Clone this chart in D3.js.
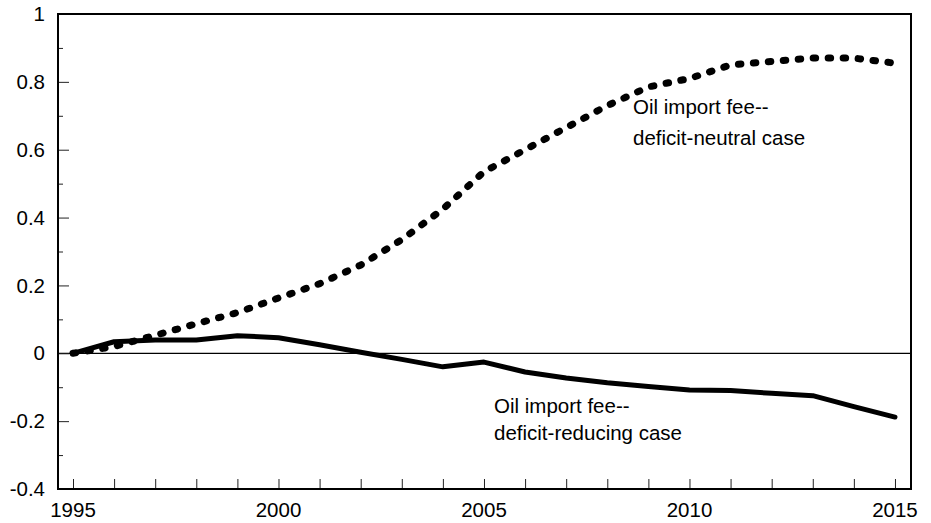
<!DOCTYPE html>
<html>
<head>
<meta charset="utf-8">
<script src="https://cdn.jsdelivr.net/npm/d3@7"></script>
<style>
  body { margin: 0; background: #fff; }
  svg { display: block; }
</style>
</head>
<body>
<div id="chart"></div>
<script>
// data
const years = d3.range(1995, 2016);
const deficitNeutral = [0, 0.02, 0.053, 0.087, 0.12, 0.163, 0.205, 0.26, 0.335, 0.425, 0.535,
  0.6, 0.665, 0.73, 0.785, 0.81, 0.85, 0.86, 0.87, 0.87, 0.855];
const deficitReducing = [0, 0.034, 0.039, 0.039, 0.052, 0.046, 0.025, 0.003, -0.018, -0.04, -0.026,
  -0.055, -0.073, -0.087, -0.098, -0.108, -0.11, -0.118, -0.125, -0.157, -0.188];
const yMajor = [-0.4, -0.2, 0, 0.2, 0.4, 0.6, 0.8, 1];
const yMinor = [-0.3, -0.1, 0.1, 0.3, 0.5, 0.7, 0.9];
const yLabels = ["-0.4", "-0.2", "0", "0.2", "0.4", "0.6", "0.8", "1"];
const xLabels = [1995, 2000, 2005, 2010, 2015];
const labelNeutral = ["Oil import fee--", "deficit-neutral case"];
const labelReducing = ["Oil import fee--", "deficit-reducing case"];

const W = 931, H = 523;
const margin = {top: 14, right: 20, bottom: 34, left: 58};

const svg = d3.select("#chart").append("svg")
  .attr("width", W)
  .attr("height", H);

const x = d3.scaleLinear()
  .domain([1994.635, 2015.39])
  .range([margin.left, W - margin.right]);

const y = d3.scaleLinear()
  .domain([-0.4, 1])
  .range([H - margin.bottom, margin.top]);

const font = "'Liberation Sans', Arial, sans-serif";
const fs = "20.5px";

// zero line
svg.append("line")
  .attr("x1", x.range()[0]).attr("x2", x.range()[1])
  .attr("y1", y(0)).attr("y2", y(0))
  .attr("stroke", "#000")
  .attr("stroke-width", 1.2);

// y ticks (inside, pointing right)
svg.append("g")
  .attr("transform", `translate(${margin.left},0)`)
  .call(d3.axisRight(y).tickValues(yMajor).tickSize(11).tickFormat(""))
  .call(g => g.select(".domain").remove())
  .selectAll("line").attr("stroke", "#222");

svg.append("g")
  .attr("transform", `translate(${margin.left},0)`)
  .call(d3.axisRight(y).tickValues(yMinor).tickSize(5).tickFormat(""))
  .call(g => g.select(".domain").remove())
  .selectAll("line").attr("stroke", "#222");

// y labels
svg.append("g")
  .selectAll("text")
  .data(yMajor)
  .enter()
  .append("text")
  .attr("x", margin.left - 13)
  .attr("y", d => y(d))
  .attr("dy", "0.35em")
  .attr("text-anchor", "end")
  .attr("font-family", font)
  .attr("font-size", fs)
  .text((d, i) => yLabels[i]);

// x ticks (inside, pointing up)
svg.append("g")
  .attr("transform", `translate(0,${H - margin.bottom})`)
  .call(d3.axisTop(x).tickValues(years).tickSize(10).tickFormat(""))
  .call(g => g.select(".domain").remove())
  .selectAll("line").attr("stroke", "#222");

// x labels
svg.append("g")
  .selectAll("text")
  .data(xLabels)
  .enter()
  .append("text")
  .attr("x", d => x(d))
  .attr("y", H - margin.bottom + 28)
  .attr("text-anchor", "middle")
  .attr("font-family", font)
  .attr("font-size", fs)
  .text(d => d);

// frame
svg.append("rect")
  .attr("x", margin.left)
  .attr("y", margin.top)
  .attr("width", W - margin.left - margin.right)
  .attr("height", H - margin.top - margin.bottom)
  .attr("fill", "none")
  .attr("stroke", "#000")
  .attr("stroke-width", 2);

const line = d3.line()
  .x((d, i) => x(years[i]))
  .y(d => y(d));

// deficit-reducing case (solid)
svg.append("path")
  .datum(deficitReducing)
  .attr("d", line)
  .attr("fill", "none")
  .attr("stroke", "#000")
  .attr("stroke-width", 5)
  .attr("stroke-linejoin", "round")
  .attr("stroke-linecap", "round");

// deficit-neutral case (dotted)
svg.append("path")
  .datum(deficitNeutral)
  .attr("d", line)
  .attr("fill", "none")
  .attr("stroke", "#000")
  .attr("stroke-width", 7)
  .attr("stroke-dasharray", "2.5 12.5")
  .attr("stroke-linecap", "round");

// labels
function addLabel(lines, lx, ly, gap) {
  const t = svg.append("text")
    .attr("font-family", font)
    .attr("font-size", fs);
  lines.forEach((s, i) => {
    t.append("tspan")
      .attr("x", lx)
      .attr("y", ly + i * gap)
      .text(s);
  });
}
addLabel(labelNeutral, 633, 114, 31);
addLabel(labelReducing, 494, 413, 27);
</script>
</body>
</html>
